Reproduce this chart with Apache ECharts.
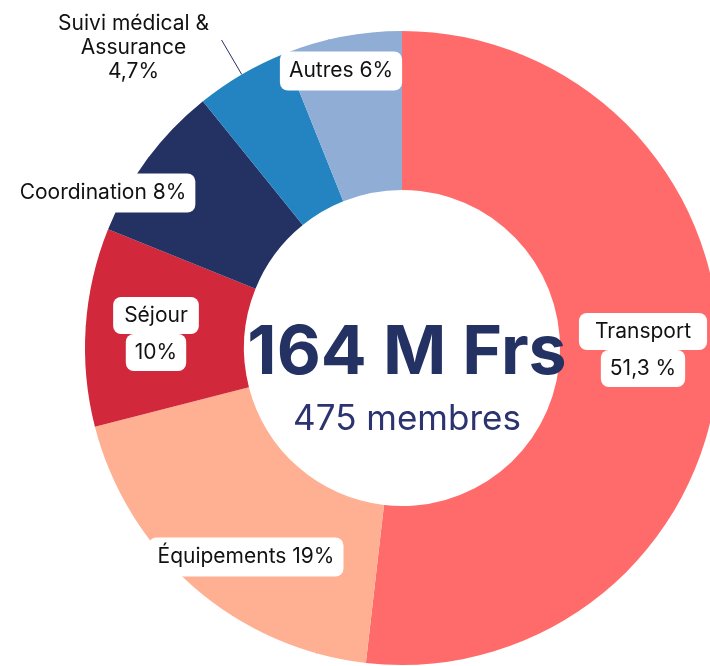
<!DOCTYPE html>
<html>
<head>
<meta charset="utf-8">
<script src="https://cdn.jsdelivr.net/npm/echarts@6/dist/echarts.min.js"></script>
<style>
  html, body { margin: 0; padding: 0; background: #fff; }
  #chart { width: 710px; height: 666px; }
</style>
</head>
<body>
<div id="chart"></div>
<script>
// données
const categories = ['Transport', 'Équipements', 'Séjour', 'Coordination', 'Suivi médical & Assurance', 'Autres'];
const values = [51.3, 19, 10, 8, 4.7, 6];
const valueLabels = ['51,3 %', '19%', '10%', '8%', '4,7%', '6%'];
const totalLabel = '164 M Frs';
const membersLabel = '475 membres';

// mise en page
const colors = ['#FF6B6B', '#FFB093', '#D2283C', '#243163', '#2484C1', '#90ADD6'];
const labelPos = [[643, 350], [246, 557], [156, 334], [103, 193], null, [341, 71]];
const FONT = 'Inter, "Noto Sans", sans-serif';

const boxTok = (pad) => ({
  backgroundColor: '#fff', borderRadius: 8, padding: pad,
  fontSize: 21, color: '#111', fontFamily: FONT
});

function labelFor(i) {
  const name = categories[i];
  if (i === 0) {
    return {
      formatter: '{a|' + name + '}\n{b|' + valueLabels[i] + '}',
      rich: { a: boxTok([8, 16]), b: boxTok([8, 9]) }
    };
  }
  if (i === 2) {
    return {
      formatter: '{a|' + name + '}\n{b|' + valueLabels[i] + '}',
      rich: { a: boxTok([8, 11]), b: boxTok([8, 9]) }
    };
  }
  if (i === 4) {
    return {
      position: 'outside',
      padding: [16, 0, 0, 0],
      formatter: '{c|Suivi médical &}\n{c|Assurance}\n{c|' + valueLabels[i] + '}',
      rich: { c: { width: 166, align: 'center', fontSize: 21, lineHeight: 24, color: '#111', fontFamily: FONT } }
    };
  }
  return {
    formatter: name + ' ' + valueLabels[i],
    backgroundColor: '#fff', borderRadius: 8, padding: [9, 9],
    fontSize: 21, color: '#111', fontFamily: FONT
  };
}

const myChart = echarts.init(document.getElementById('chart'));
const option = {
  animation: false,
  series: [{
    type: 'pie',
    center: [402, 348],
    radius: [158, 317],
    startAngle: 90,
    clockwise: true,
    emphasis: { disabled: true },
    label: { position: 'inside', show: true },
    labelLine: { show: true, length: 40, length2: 0, lineStyle: { color: '#243163', width: 1 } },
    labelLayout: function (p) {
      const pos = labelPos[p.dataIndex];
      if (!pos) return;
      return { x: pos[0], y: pos[1] };
    },
    data: categories.map((name, i) => ({
      name: name,
      value: values[i],
      itemStyle: { color: colors[i] },
      label: labelFor(i)
    }))
  }],
  graphic: [
    {
      type: 'text', x: 407, y: 354, z: 100,
      style: {
        text: totalLabel, fill: '#243163', font: 'bold 68px ' + FONT,
        textAlign: 'center', textVerticalAlign: 'middle'
      }
    },
    {
      type: 'text', x: 407, y: 419, z: 100,
      style: {
        text: membersLabel, fill: '#2B3470', font: '35px ' + FONT,
        textAlign: 'center', textVerticalAlign: 'middle'
      }
    }
  ]
};
myChart.setOption(option);
window.onresize = myChart.resize;
</script>
</body>
</html>
